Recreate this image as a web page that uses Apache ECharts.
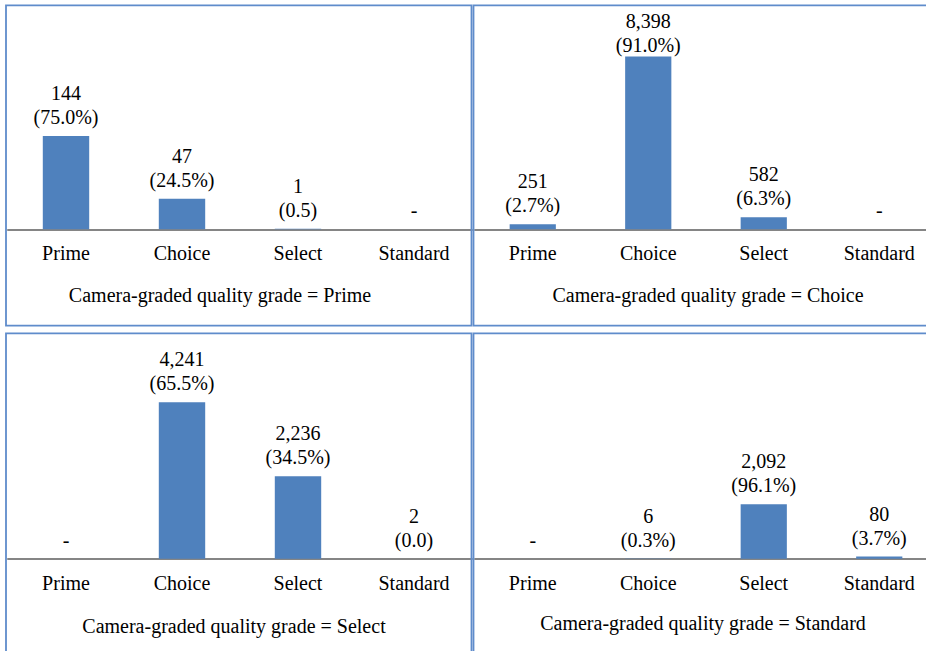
<!DOCTYPE html>
<html>
<head>
<meta charset="utf-8">
<script src="https://cdn.jsdelivr.net/npm/echarts@6/dist/echarts.min.js"></script>
<style>
html,body{margin:0;padding:0;background:#fff;overflow:hidden;width:926px;height:651px;}
#chart{width:950px;height:651px;}
</style>
</head>
<body>
<div id="chart"></div>
<script>
// ---- data ----
const categories = ['Prime', 'Choice', 'Select', 'Standard'];
const panelTitles = [
  'Camera-graded quality grade = Prime',
  'Camera-graded quality grade = Choice',
  'Camera-graded quality grade = Select',
  'Camera-graded quality grade = Standard'
];
const primeCounts = [144, 47, 1, 0];
const primePct = ['75.0%', '24.5%', '0.5', null];
const choiceCounts = [251, 8398, 582, 0];
const choicePct = ['2.7%', '91.0%', '6.3%', null];
const selectCounts = [0, 4241, 2236, 2];
const selectPct = [null, '65.5%', '34.5%', '0.0'];
const standardCounts = [0, 6, 2092, 80];
const standardPct = [null, '0.3%', '96.1%', '3.7%'];

const panelCounts = [primeCounts, choiceCounts, selectCounts, standardCounts];
const panelPcts = [primePct, choicePct, selectPct, standardPct];

// ---- layout (positions / sizes) ----
const layout = [
  {left: 8,   top: 10,  width: 464, height: 219.3, yMax: 338.5, capX: 220, capY: 295, box: [6, 5.3, 465.5, 320.4], labelDrop: {}},
  {left: 475, top: 10,  width: 462, height: 219.3, yMax: 10664, capX: 708, capY: 295, box: [473.5, 5.3, 470, 320.4], labelDrop: {1: 7}},
  {left: 8,   top: 339, width: 464, height: 219.7, yMax: 5957,  capX: 234, capY: 626, box: [6, 333.3, 465.5, 340], labelDrop: {}},
  {left: 475, top: 339, width: 462, height: 219.7, yMax: 8449,  capX: 703, capY: 623, box: [473.5, 333.3, 470, 340], labelDrop: {}}
];

const FONT = "Liberation Serif, Times New Roman, serif";
const fmt = v => v.toLocaleString('en-US');

const grids = [], xAxes = [], yAxes = [], series = [], graphics = [];
layout.forEach((L, i) => {
  grids.push({left: L.left, top: L.top, width: L.width, height: L.height, containLabel: false});
  xAxes.push({
    type: 'category', gridIndex: i, data: categories,
    axisLine: {lineStyle: {color: '#858585', width: 2}},
    axisTick: {show: false},
    axisLabel: {color: '#000', fontFamily: FONT, fontSize: 20, margin: 14, interval: 0}
  });
  yAxes.push({
    type: 'value', gridIndex: i, min: 0, max: L.yMax,
    show: false, splitLine: {show: false}
  });
  const counts = panelCounts[i], pcts = panelPcts[i];
  series.push({
    type: 'bar', xAxisIndex: i, yAxisIndex: i,
    data: counts.map((v, j) => L.labelDrop[j] != null
      ? {value: v, label: {offset: [0, L.labelDrop[j]]}}
      : v),
    barWidth: '40%',
    itemStyle: {color: '#4f81bd'},
    label: {
      show: true, position: 'top', distance: 7,
      color: '#000', fontFamily: FONT, fontSize: 20, lineHeight: 24,
      formatter: p => counts[p.dataIndex] === 0 || pcts[p.dataIndex] === null
        ? '-'
        : fmt(counts[p.dataIndex]) + '\n(' + pcts[p.dataIndex] + ')'
    },
    silent: true, animation: false
  });
  graphics.push({
    type: 'rect', shape: {x: L.box[0], y: L.box[1], width: L.box[2], height: L.box[3]},
    style: {fill: 'none', stroke: '#5f8ccb', lineWidth: 1.8}, z: 100
  });
  graphics.push({
    type: 'text', x: L.capX, y: L.capY,
    style: {text: panelTitles[i], fill: '#000', font: '20px ' + FONT, textAlign: 'center', textVerticalAlign: 'middle'}
  });
});

const chart = echarts.init(document.getElementById('chart'), null, {renderer: 'svg'});
chart.setOption({
  animation: false,
  backgroundColor: '#fff',
  grid: grids, xAxis: xAxes, yAxis: yAxes, series: series, graphic: graphics
});
</script>
</body>
</html>
